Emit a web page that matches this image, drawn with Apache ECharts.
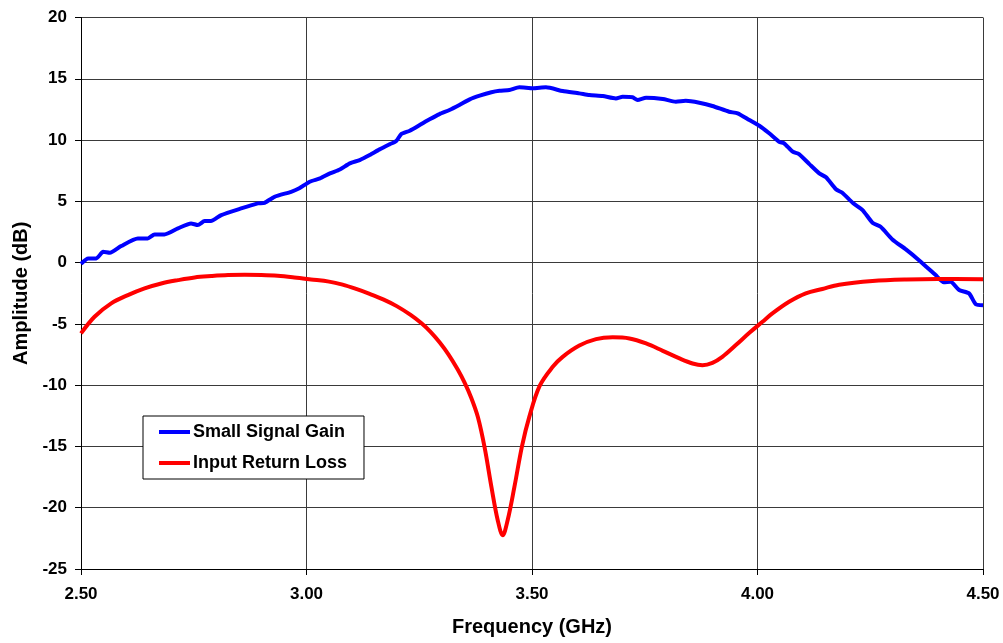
<!DOCTYPE html>
<html>
<head>
<meta charset="utf-8">
<script src="https://cdn.jsdelivr.net/npm/echarts@6/dist/echarts.min.js"></script>
<style>
html,body{margin:0;padding:0;background:#fff;}
#chart{width:1003px;height:643px;}
</style>
</head>
<body>
<div id="chart"></div>
<script>
// Small Signal Gain (dB) vs frequency (GHz)
var gainFreq = [2.500,2.516,2.534,2.549,2.564,2.589,2.626,2.648,2.663,2.685,2.715,2.744,2.759,2.774,2.788,2.811,2.855,2.892,2.907,2.929,2.966,2.984,3.007,3.030,3.052,3.074,3.096,3.118,3.140,3.162,3.184,3.199,3.210,3.229,3.251,3.273,3.295,3.317,3.339,3.362,3.384,3.410,3.428,3.450,3.472,3.502,3.531,3.568,3.605,3.627,3.657,3.686,3.701,3.723,3.734,3.753,3.790,3.819,3.841,3.871,3.900,3.937,3.956,3.982,4.004,4.026,4.048,4.059,4.078,4.092,4.115,4.137,4.152,4.174,4.188,4.211,4.233,4.255,4.273,4.299,4.329,4.358,4.395,4.413,4.428,4.447,4.469,4.484,4.500];
var gainDb = [-0.10,0.34,0.34,0.88,0.80,1.35,1.97,1.97,2.30,2.30,2.79,3.20,3.06,3.39,3.39,3.88,4.42,4.83,4.88,5.37,5.78,6.06,6.60,6.87,7.28,7.60,8.10,8.37,8.78,9.24,9.65,9.92,10.49,10.76,11.22,11.69,12.12,12.45,12.86,13.32,13.62,13.90,14.02,14.08,14.30,14.22,14.30,14.00,13.81,13.67,13.59,13.40,13.53,13.49,13.27,13.45,13.35,13.13,13.20,13.04,12.78,12.31,12.18,11.63,11.17,10.55,9.86,9.73,9.05,8.86,8.04,7.28,6.96,5.98,5.70,4.88,4.29,3.25,2.92,1.89,1.08,0.20,-1.02,-1.60,-1.56,-2.24,-2.51,-3.39,-3.47];

// Input Return Loss (dB) vs frequency (GHz)
var lossFreq = [2.500,2.530,2.567,2.604,2.641,2.678,2.715,2.752,2.789,2.826,2.863,2.900,2.936,2.973,3.010,3.050,3.080,3.110,3.140,3.170,3.200,3.230,3.255,3.275,3.295,3.315,3.335,3.350,3.365,3.380,3.395,3.410,3.424,3.435,3.446,3.461,3.478,3.494,3.517,3.546,3.568,3.605,3.642,3.679,3.716,3.753,3.790,3.827,3.856,3.878,3.900,3.922,3.952,3.982,4.011,4.033,4.070,4.107,4.144,4.181,4.255,4.330,4.400,4.500];
var lossDb = [-5.78,-4.42,-3.33,-2.65,-2.10,-1.70,-1.43,-1.21,-1.10,-1.02,-1.00,-1.02,-1.08,-1.21,-1.37,-1.55,-1.80,-2.15,-2.55,-3.00,-3.55,-4.25,-4.95,-5.65,-6.50,-7.50,-8.70,-9.75,-11.00,-12.60,-15.10,-18.30,-21.02,-22.24,-21.02,-18.30,-14.95,-12.59,-10.06,-8.50,-7.69,-6.77,-6.24,-6.10,-6.19,-6.60,-7.20,-7.82,-8.23,-8.37,-8.18,-7.69,-6.73,-5.73,-4.83,-4.15,-3.20,-2.51,-2.15,-1.80,-1.50,-1.37,-1.33,-1.35];

var seriesNames = ['Small Signal Gain', 'Input Return Loss'];
var xTicks = [2.5, 3.0, 3.5, 4.0, 4.5];
var yTicks = [-25, -20, -15, -10, -5, 0, 5, 10, 15, 20];

function pairs(xs, ys) {
  var out = [];
  for (var i = 0; i < xs.length; i++) out.push([xs[i], ys[i]]);
  return out;
}

var FONT = 'Liberation Sans, Arial, sans-serif';
var chart = echarts.init(document.getElementById('chart'), null, {renderer: 'canvas'});
chart.setOption({
  animation: false,
  backgroundColor: '#ffffff',
  grid: {left: 81, right: 20, top: 17.5, bottom: 74, containLabel: false},
  legend: {
    orient: 'vertical',
    left: 143,
    top: 416,
    data: seriesNames,
    icon: 'rect',
    itemWidth: 31,
    itemHeight: 4,
    itemGap: 13,
    padding: [7, 17, 7, 16],
    borderColor: '#000',
    borderWidth: 1,
    backgroundColor: '#fff',
    textStyle: {fontFamily: FONT, fontWeight: 'bold', fontSize: 18, color: '#000', padding: [0, 0, 0, -2]}
  },
  xAxis: {
    type: 'value',
    min: xTicks[0],
    max: xTicks[xTicks.length - 1],
    interval: 0.5,
    name: 'Frequency (GHz)',
    nameLocation: 'middle',
    nameGap: 48,
    nameTextStyle: {fontFamily: FONT, fontWeight: 'bold', fontSize: 20, color: '#000'},
    axisLine: {onZero: false, lineStyle: {color: '#000', width: 1}},
    axisTick: {show: true, length: 6, lineStyle: {color: '#000'}},
    axisLabel: {fontFamily: FONT, fontWeight: 'bold', fontSize: 17, color: '#000', margin: 17,
      formatter: function (v) { return v.toFixed(2); }},
    splitLine: {show: true, lineStyle: {color: '#3a3a3a', width: 1}}
  },
  yAxis: {
    type: 'value',
    min: yTicks[0],
    max: yTicks[yTicks.length - 1],
    interval: 5,
    name: 'Amplitude (dB)',
    nameLocation: 'middle',
    nameGap: 50,
    nameTextStyle: {fontFamily: FONT, fontWeight: 'bold', fontSize: 20, color: '#000'},
    axisLine: {show: true, lineStyle: {color: '#000', width: 1}},
    axisTick: {show: true, length: 6, lineStyle: {color: '#000'}},
    axisLabel: {fontFamily: FONT, fontWeight: 'bold', fontSize: 17, color: '#000', margin: 14},
    splitLine: {show: true, lineStyle: {color: '#3a3a3a', width: 1}}
  },
  series: [
    {
      name: seriesNames[0],
      type: 'line',
      data: pairs(gainFreq, gainDb),
      showSymbol: false,
      smooth: 0.2,
      lineStyle: {color: '#0000ff', width: 4},
      itemStyle: {color: '#0000ff'},
      z: 2
    },
    {
      name: seriesNames[1],
      type: 'line',
      data: pairs(lossFreq, lossDb),
      showSymbol: false,
      smooth: 0.35,
      lineStyle: {color: '#ff0000', width: 4},
      itemStyle: {color: '#ff0000'},
      z: 3
    }
  ]
});
</script>
</body>
</html>
